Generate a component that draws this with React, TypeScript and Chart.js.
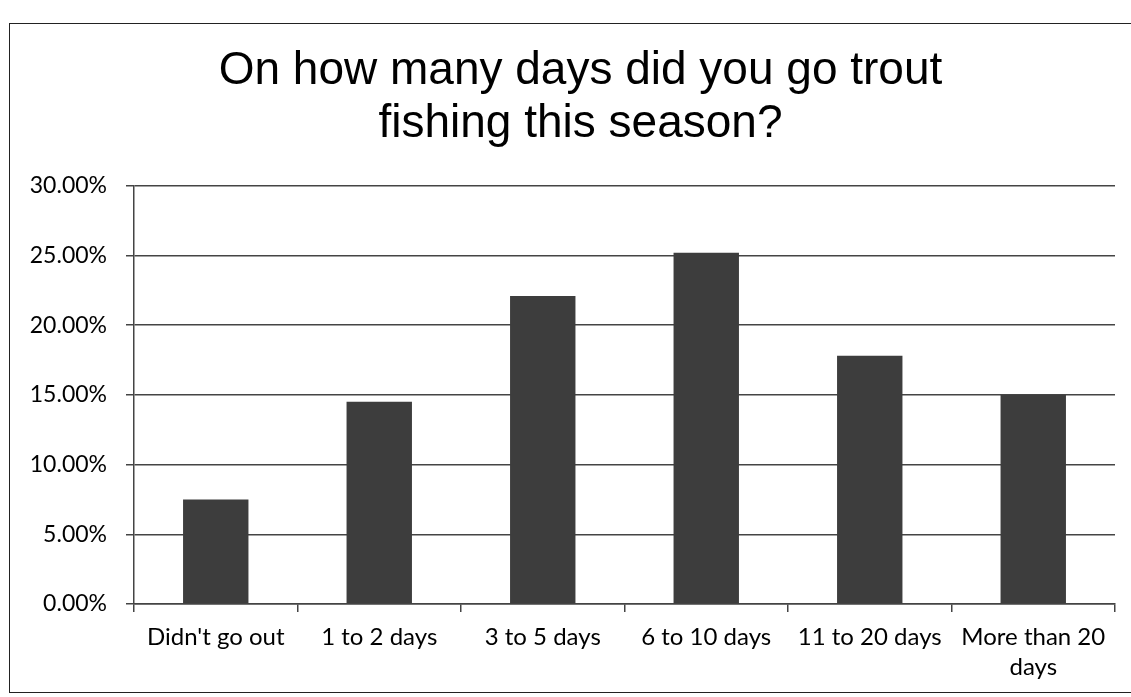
import React, { useEffect, useRef } from "react";
import { Chart, registerables } from "chart.js";

Chart.register(...registerables);

const titleLines = ["On how many days did you go trout", "fishing this season?"];
const categories: (string | string[])[] = [
  "Didn't go out",
  "1 to 2 days",
  "3 to 5 days",
  "6 to 10 days",
  "11 to 20 days",
  ["More than 20", "days"],
];
const percentValues = [7.5, 14.5, 22.1, 25.2, 17.8, 15.0];
const yMin = 0;
const yMax = 30;
const yStep = 5;

const W = 1150;
const H = 668;

const titleShift = {
  id: "titleShift",
  afterLayout(chart: any) {
    const t = chart.titleBlock;
    if (t) {
      t.left += 8;
      t.right += 8;
    }
  },
};

export default function App() {
  const ref = useRef<HTMLCanvasElement | null>(null);

  useEffect(() => {
    if (!ref.current) return;
    const chart = new Chart(ref.current, {
      type: "bar",
      data: {
        labels: categories,
        datasets: [
          {
            data: percentValues,
            backgroundColor: "#3d3d3d",
            borderWidth: 0,
            barPercentage: 0.4,
            categoryPercentage: 1,
          },
        ],
      },
      plugins: [titleShift],
      options: {
        animation: false,
        responsive: false,
        layout: { padding: { left: 20, right: 45, top: 0, bottom: 0 } },
        plugins: {
          legend: { display: false },
          tooltip: { enabled: false },
          title: {
            display: true,
            text: titleLines,
            color: "#000",
            font: { family: "'Liberation Sans', Arial, sans-serif", size: 46, weight: "normal", lineHeight: 1.15 },
            padding: { top: 21, bottom: 35 },
          },
        },
        scales: {
          x: {
            grid: {
              display: true,
              drawOnChartArea: false,
              drawTicks: true,
              tickLength: 8,
              color: "#444",
              lineWidth: 1.5,
              offset: true,
            },
            border: { display: true, color: "#444", width: 1.5 },
            ticks: {
              color: "#000",
              padding: 10,
              maxRotation: 0,
              autoSkip: false,
              font: { family: "Lato, 'Noto Sans', sans-serif", size: 24, lineHeight: 1.25 },
            },
          },
          y: {
            min: yMin,
            max: yMax,
            afterFit: (scale: any) => {
              scale.width = 104;
            },
            grid: {
              color: "#444",
              lineWidth: 1.5,
              drawTicks: true,
              tickLength: 8,
            },
            border: { display: true, color: "#444", width: 1.5 },
            ticks: {
              stepSize: yStep,
              color: "#000",
              padding: 19,
              font: { family: "Lato, 'Noto Sans', sans-serif", size: 23 },
              callback: (v: any) => Number(v).toFixed(2) + "%",
            },
          },
        },
      },
    });
    return () => chart.destroy();
  }, []);

  return (
    <div style={{ position: "fixed", left: 0, top: 0, width: 1131, height: 697, overflow: "hidden", background: "#fff" }}>
      <div
        style={{
          position: "absolute",
          left: 9,
          top: 23,
          width: W,
          height: H,
          border: "1.5px solid #222",
          background: "#fff",
        }}
      >
        <canvas ref={ref} width={W} height={H} style={{ display: "block", width: W, height: H }} />
      </div>
    </div>
  );
}
